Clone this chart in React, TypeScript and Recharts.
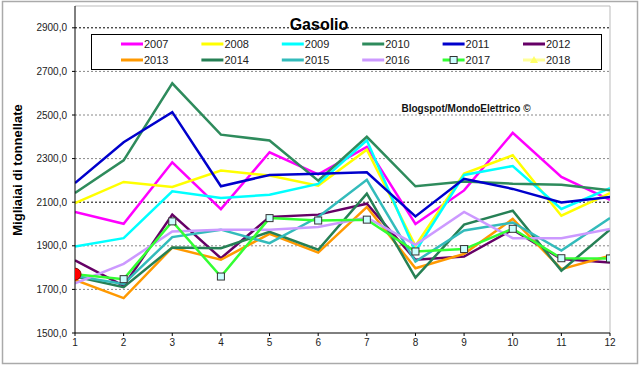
import React from 'react';
import { LineChart, Line, XAxis, YAxis, ReferenceLine } from 'recharts';

const months = [1, 2, 3, 4, 5, 6, 7, 8, 9, 10, 11, 12];
const yTicks = [1500, 1700, 1900, 2100, 2300, 2500, 2700, 2900];

const v2007 = [2055, 2001, 2283, 2068, 2329, 2228, 2354, 2000, 2154, 2418, 2216, 2111];
const v2008 = [2096, 2193, 2170, 2245, 2222, 2176, 2341, 1900, 2231, 2315, 2038, 2142];
const v2009 = [1897, 1935, 2150, 2119, 2134, 2184, 2384, 1875, 2225, 2266, 2069, 2165];
const v2010 = [2142, 2292, 2645, 2410, 2383, 2199, 2400, 2173, 2195, 2185, 2180, 2155];
const v2011 = [2188, 2375, 2513, 2173, 2225, 2231, 2237, 2035, 2207, 2161, 2099, 2124];
const v2012 = [1833, 1716, 2043, 1843, 2032, 2043, 2093, 1836, 1851, 1974, 1839, 1823];
const v2013 = [1744, 1660, 1892, 1836, 1955, 1869, 2078, 1797, 1863, 2023, 1793, 1854];
const v2014 = [1759, 1710, 1892, 1889, 1964, 1882, 2139, 1754, 1997, 2061, 1786, 1974];
const v2015 = [1762, 1725, 1940, 1974, 1912, 2032, 2203, 1828, 1970, 2007, 1878, 2027];
const v2016 = [1728, 1817, 1966, 1974, 1974, 1986, 2030, 1905, 2055, 1935, 1935, 1977];
const v2017 = [1770, 1747, 2012, 1759, 2027, 2016, 2020, 1874, 1885, 1978, 1843, 1842];
const v2018 = [1770];

const series = [
  { key: '2007', values: v2007, color: '#FF00FF' },
  { key: '2008', values: v2008, color: '#FFFF00' },
  { key: '2009', values: v2009, color: '#00FFFF' },
  { key: '2010', values: v2010, color: '#2E8B5C' },
  { key: '2011', values: v2011, color: '#0000CC' },
  { key: '2012', values: v2012, color: '#660066' },
  { key: '2013', values: v2013, color: '#FF9900' },
  { key: '2014', values: v2014, color: '#268055' },
  { key: '2015', values: v2015, color: '#33BBBB' },
  { key: '2016', values: v2016, color: '#CC99FF' },
  { key: '2017', values: v2017, color: '#33FF33' },
  { key: '2018', values: v2018, color: '#FFFF99' },
];

const data = months.map((m, i) => {
  const row: any = { month: m };
  series.forEach((s) => {
    row['y' + s.key] = s.values[i] !== undefined ? s.values[i] : null;
  });
  return row;
});

const fmt = (v: number) => v.toFixed(1).replace('.', ',');

const SquareDot = (props: any) => {
  const { cx, cy } = props;
  if (cx == null || cy == null) return null;
  return <rect x={cx - 3.5} y={cy - 3.5} width={7} height={7} fill="#CCFFFF" stroke="#333" strokeWidth={1} />;
};

const RedDot = (props: any) => {
  const { cx, cy } = props;
  if (cx == null || cy == null) return null;
  return <circle cx={cx} cy={cy} r={6} fill="#FF0000" stroke="#880000" strokeWidth={1} />;
};

const FONT = 'Arial, "Liberation Sans", sans-serif';

export default function App() {
  const legendLeft = 121;
  const stride = 80.4;
  return (
    <div style={{ position: 'relative', width: 640, height: 367, background: '#fff', fontFamily: FONT }}>
      <style>{`body{margin:0;}`}</style>
      <LineChart
        width={640}
        height={367}
        data={data}
        margin={{ top: 6, right: 30, left: 0, bottom: 14 }}
      >
        {yTicks.filter((t) => t !== 1500).map((t) => (
          <ReferenceLine
            key={'g' + t}
            y={t}
            stroke={t === 2100 || t === 2900 ? '#000' : '#888'}
            strokeDasharray="2 2"
            strokeWidth={1}
          />
        ))}
        <ReferenceLine y={3000} stroke="#bbb" strokeWidth={1} />
        <ReferenceLine x={12} stroke="#bbb" strokeWidth={1} />
        <XAxis
          dataKey="month"
          type="number"
          domain={[1, 12]}
          ticks={months}
          height={20}
          axisLine={{ stroke: '#000' }}
          tickLine={{ stroke: '#000' }}
          tickSize={3}
          tickMargin={3}
          tick={{ fontSize: 10, fill: '#222', fontFamily: FONT }}
          allowDataOverflow
        />
        <YAxis
          type="number"
          domain={[1500, 3000]}
          ticks={yTicks}
          width={75}
          tickFormatter={fmt}
          axisLine={{ stroke: '#000' }}
          tickLine={{ stroke: '#000' }}
          tickSize={3}
          tickMargin={5}
          tick={{ fontSize: 10, fill: '#222', fontFamily: FONT }}
          allowDataOverflow
        />
        {series.filter((s) => s.key !== '2018').map((s) => (
          <Line
            key={s.key}
            dataKey={'y' + s.key}
            stroke={s.color}
            strokeWidth={2.5}
            dot={s.key === '2017' ? <SquareDot /> : false}
            activeDot={false}
            isAnimationActive={false}
            connectNulls={false}
          />
        ))}
        <Line
          dataKey="y2018"
          stroke="#FFFF99"
          strokeWidth={2}
          dot={<RedDot />}
          activeDot={false}
          isAnimationActive={false}
        />
      </LineChart>
      <svg
        width={640}
        height={367}
        style={{ position: 'absolute', left: 0, top: 0, pointerEvents: 'none' }}
      >
        <rect x={2.5} y={1.5} width={635} height={362} fill="none" stroke="#aaa" strokeWidth={1.5} />
        <text x={319} y={30} textAnchor="middle" fontSize={16} fontWeight="bold" fill="#000" fontFamily={FONT}>
          Gasolio
        </text>
        <rect x={91.5} y={34.5} width={510} height={35} fill="#fff" stroke="#000" strokeWidth={1} />
        {series.map((s, i) => {
          const col = i % 6;
          const row = Math.floor(i / 6);
          const x = legendLeft + col * stride;
          const y = row === 0 ? 44 : 60;
          return (
            <g key={'lg' + s.key}>
              <line x1={x} y1={y} x2={x + 22} y2={y} stroke={s.color} strokeWidth={3} />
              {s.key === '2017' && (
                <rect x={x + 7.5} y={y - 3.5} width={7} height={7} fill="#CCFFFF" stroke="#333" strokeWidth={1} />
              )}
              {s.key === '2018' && (
                <polygon points={`${x + 11},${y - 4} ${x + 15},${y + 3} ${x + 7},${y + 3}`} fill="#FFFF66" />
              )}
              <text x={x + 23} y={y + 4} fontSize={11} fill="#222" fontFamily={FONT}>
                {s.key}
              </text>
            </g>
          );
        })}
        <text x={466} y={112} textAnchor="middle" fontSize={10} fontWeight="bold" fill="#111" fontFamily={FONT}>
          Blogspot/MondoElettrico ©
        </text>
        <text
          x={0}
          y={0}
          transform="translate(22,170) rotate(-90)"
          textAnchor="middle"
          fontSize={13}
          fontWeight="bold"
          fill="#000"
          fontFamily={FONT}
        >
          Migliaiai di tonnellate
        </text>
      </svg>
    </div>
  );
}
